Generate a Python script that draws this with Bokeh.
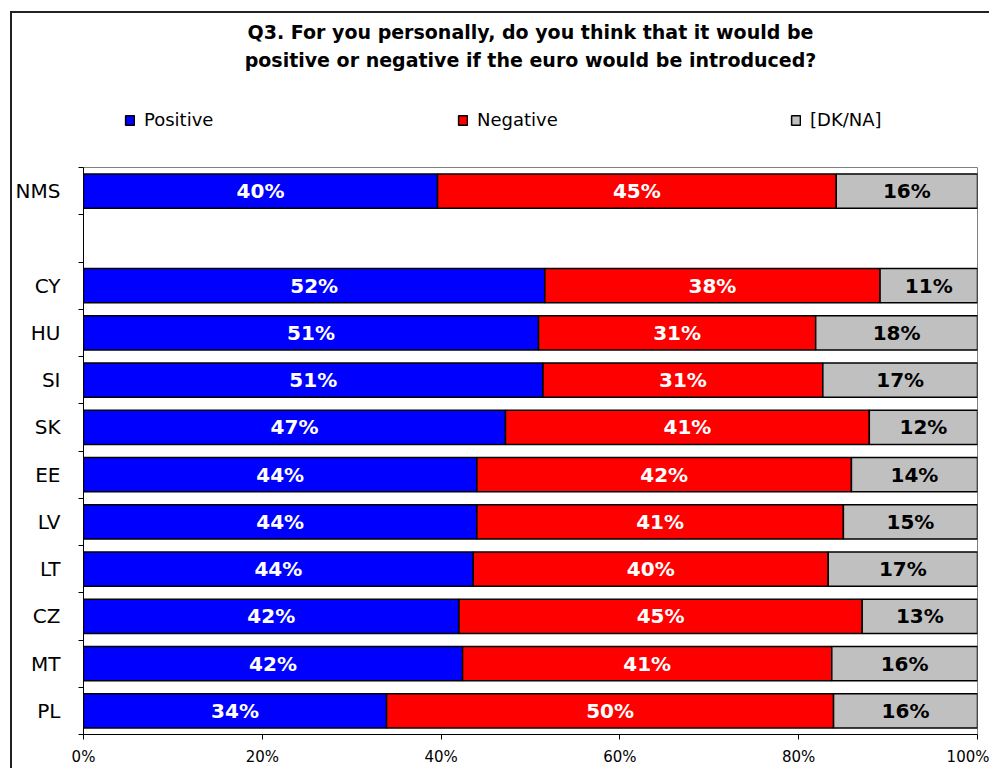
from bokeh.plotting import figure
from bokeh.layouts import column
from bokeh.models import (ColumnDataSource, FixedTicker, PrintfTickFormatter, Legend,
                          LegendItem, Title, Range1d)
from bokeh.core.properties import value
from bokeh.embed import file_html
from bokeh.resources import INLINE

# ---- data ----
slots = ["NMS", "", "CY", "HU", "SI", "SK", "EE", "LV", "LT", "CZ", "MT", "PL"]
countries = ["NMS", "CY", "HU", "SI", "SK", "EE", "LV", "LT", "CZ", "MT", "PL"]
positive = [39.6, 51.6, 50.9, 51.4, 47.2, 44.0, 44.0, 43.6, 42.0, 42.4, 33.9]
negative = [44.6, 37.5, 31.0, 31.3, 40.7, 41.9, 41.0, 39.7, 45.1, 41.3, 50.0]
dkna = [15.8, 10.9, 18.1, 17.3, 12.1, 14.1, 15.0, 16.7, 12.9, 16.3, 16.1]
positive_labels = ["40%", "52%", "51%", "51%", "47%", "44%", "44%", "44%", "42%", "42%", "34%"]
negative_labels = ["45%", "38%", "31%", "31%", "41%", "42%", "41%", "40%", "45%", "41%", "50%"]
dkna_labels = ["16%", "11%", "18%", "17%", "12%", "14%", "15%", "17%", "13%", "16%", "16%"]
series_names = ["Positive", "Negative", "[DK/NA]"]
series_colors = ["#0000FF", "#FF0000", "#C0C0C0"]
x_ticks = [0, 20, 40, 60, 80, 100]
title_lines = ["Q3. For you personally, do you think that it would be",
               "positive or negative if the euro would be introduced?"]

FONT = "DejaVu Sans"
n = len(slots)
ys = [n - 0.5 - slots.index(c) for c in countries]

p0 = [0.0] * len(countries)
p1 = positive
n1 = [a + b for a, b in zip(positive, negative)]
d1 = [a + b + c for a, b, c in zip(positive, negative, dkna)]

src = ColumnDataSource(dict(
    y=ys,
    p0=p0, p1=p1, n1=n1, d1=d1,
    pc=[(a + b) / 2 for a, b in zip(p0, p1)],
    nc=[(a + b) / 2 for a, b in zip(p1, n1)],
    dc=[(a + b) / 2 for a, b in zip(n1, d1)],
    pl=positive_labels, nl=negative_labels, dl=dkna_labels,
))

W = 977
ML, MR = 66, 12

# ---- header figure: title + legend ----
t = figure(width=W, height=147, x_range=Range1d(0, 1), y_range=Range1d(0, 1),
           output_backend="svg", toolbar_location=None, title=None,
           min_border_left=ML, min_border_right=MR, min_border_top=58, min_border_bottom=0)
t.axis.visible = False
t.grid.visible = False
t.outline_line_color = None
# legend-only renderers (no drawable data, used only for the legend swatches)
nan = float("nan")
dummy = []
for c in series_colors:
    dummy.append(t.hbar(y=[nan], left=[nan], right=[nan], height=0.5, fill_color=c,
                        line_color="black", line_width=1.5))
legend = Legend(items=[LegendItem(label=s, renderers=[r]) for s, r in zip(series_names, dummy)],
                orientation="horizontal", location=(41, 30), margin=0, padding=0,
                spacing=185, glyph_width=11, glyph_height=12, label_standoff=9,
                label_width=128, label_height=20, label_text_font=FONT,
                label_text_font_size="18px", label_text_color="black",
                border_line_color=None, background_fill_alpha=0)
t.add_layout(legend)
standoffs = [5, 2]
for line, so in zip(reversed(title_lines), reversed(standoffs)):
    t.add_layout(Title(text=line, align="center", text_font=FONT, text_font_style="bold",
                       text_font_size="19px", text_color="black", standoff=so), "above")

# ---- main chart ----
p = figure(width=W, height=608, x_range=Range1d(0, 100), y_range=Range1d(0, n),
           output_backend="svg", toolbar_location=None, title=None,
           min_border_left=ML, min_border_right=MR, min_border_top=7, min_border_bottom=31)

H = 0.72
for left, right, c in [("p0", "p1", series_colors[0]), ("p1", "n1", series_colors[1]),
                       ("n1", "d1", series_colors[2])]:
    p.hbar(y="y", left=left, right=right, height=H, fill_color=c,
           line_color="black", line_width=1.5, source=src)

common = dict(y="y", text_align="center", text_baseline="middle",
              text_font=value(FONT), text_font_style="bold", text_font_size="20px", source=src)
p.text(x="pc", text="pl", text_color="white", **common)
p.text(x="nc", text="nl", text_color="white", **common)
p.text(x="dc", text="dl", text_color="black", **common)

p.xgrid.visible = False
p.ygrid.visible = False
p.outline_line_color = "#808080"
p.outline_line_width = 1

xa = p.xaxis[0]
xa.ticker = FixedTicker(ticks=x_ticks)
xa.formatter = PrintfTickFormatter(format="%d%%")
xa.major_tick_out = 5
xa.major_tick_in = 0
xa.minor_tick_out = 0
xa.minor_tick_in = 0
xa.axis_line_color = "black"
xa.major_tick_line_color = "black"
xa.major_label_text_font = FONT
xa.major_label_text_font_size = "15px"
xa.major_label_text_color = "black"
xa.major_label_standoff = 8

ya = p.yaxis[0]
ya.ticker = FixedTicker(ticks=ys, minor_ticks=list(range(n + 1)))
ya.major_label_overrides = {y: c for y, c in zip(ys, countries)}
ya.major_tick_out = 0
ya.major_tick_in = 0
ya.minor_tick_out = 5
ya.minor_tick_in = 0
ya.minor_tick_line_color = "black"
ya.axis_line_color = "black"
ya.major_label_text_font = FONT
ya.major_label_text_font_size = "20px"
ya.major_label_text_color = "black"
ya.major_label_standoff = 18

page = column(t, p, spacing=0, margin=(11, 0, 0, 10),
              styles={"border-top": "2px solid #222222", "border-left": "2px solid #222222"})

open("out.html", "w").write(file_html(page, INLINE))
